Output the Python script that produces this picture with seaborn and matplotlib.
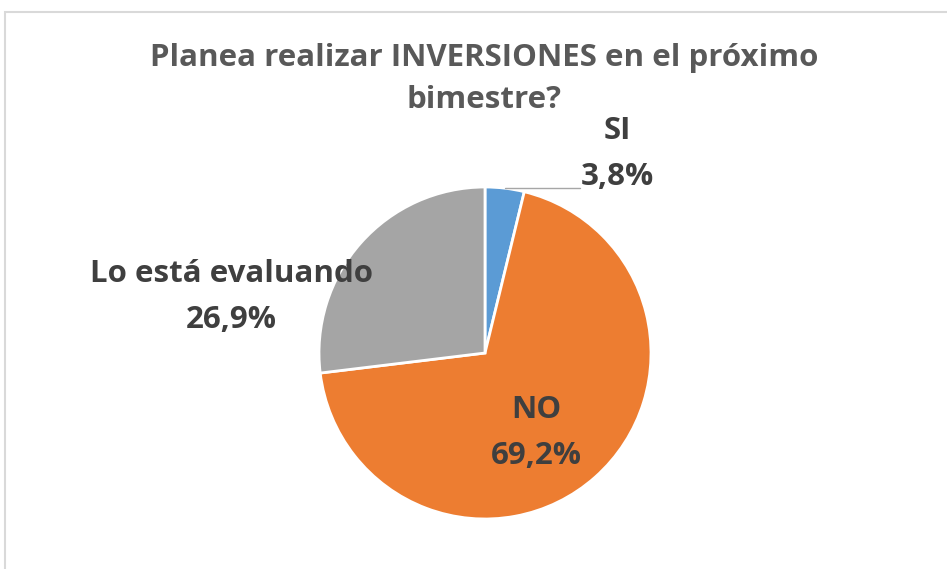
import matplotlib
matplotlib.use("Agg")
import matplotlib.pyplot as plt
import seaborn as sns
from matplotlib.patches import Rectangle

# Datos del gráfico
categorias = ["SI", "NO", "Lo está evaluando"]
porcentajes = [3.8, 69.2, 26.9]
etiquetas = ["SI\n3,8%", "NO\n69,2%", "Lo está evaluando\n26,9%"]
colores = ["#5B9BD5", "#ED7D31", "#A5A5A5"]
titulo = "Planea realizar INVERSIONES en el próximo\nbimestre?"

sns.set_theme(style="white")
plt.rcParams["font.family"] = ["Open Sans", "DejaVu Sans"]

W, H = 947, 569
fig = plt.figure(figsize=(W / 100, H / 100), dpi=100)

# marco del gráfico (recortado a la derecha y abajo)
fig.patches.append(Rectangle((5 / W, -0.1), 1.2, 1 - 12 / H + 0.1, transform=fig.transFigure,
                             fill=False, edgecolor="#D9D9D9", linewidth=1.5))

cx, cy, r = 485, 353, 166
ax = fig.add_axes([(cx - r) / W, (H - cy - r) / H, 2 * r / W, 2 * r / H])
wedges, _ = ax.pie(porcentajes, colors=colores, startangle=90, counterclock=False,
                   wedgeprops=dict(edgecolor="white", linewidth=2))
ax.set_xlim(-1, 1)
ax.set_ylim(-1, 1)
ax.set_aspect("equal")
ax.axis("off")

txt = dict(fontsize=22.5, fontweight="bold", color="#3F3F3F", ha="center", va="center",
           linespacing=1.7)
ax.text(0.80, 1.20, etiquetas[0], **txt)
ax.text(0.31, -0.48, etiquetas[1], **txt)
ax.text(-1.53, 0.34, etiquetas[2], **txt)
# línea guía para SI
ax.plot([0.12, 0.57], [0.995, 0.995], color="#A6A6A6", linewidth=1, clip_on=False)

fig.text(484 / W, 1 - 79 / H, titulo, fontsize=22.5, fontweight="bold", color="#595959",
         ha="center", va="center", linespacing=1.5)

fig.savefig("out.png", dpi=100)
